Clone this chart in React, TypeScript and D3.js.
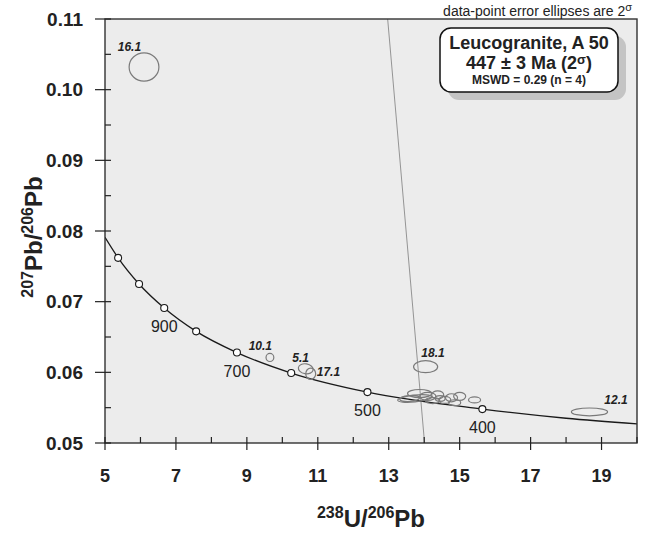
import React from 'react';
import * as d3 from 'd3';

// concordia curve (238U/206Pb, 207Pb/206Pb)
const curveX = [5.0, 5.37, 5.96, 6.67, 7.57, 8.72, 10.25, 12.40, 15.64, 18.0, 20.0];
const curveY = [0.0791, 0.0762, 0.0725, 0.0691, 0.0658, 0.0628, 0.0599, 0.0572, 0.0548, 0.0535, 0.0527];

// age markers on the concordia (Ma)
const markerAge = [1100, 1000, 900, 800, 700, 600, 500, 400];
const markerX = [5.37, 5.96, 6.67, 7.57, 8.72, 10.25, 12.40, 15.64];
const markerY = [0.0762, 0.0725, 0.0691, 0.0658, 0.0628, 0.0599, 0.0572, 0.0548];
const labelledAges = [900, 700, 500, 400];

// discordia line end points
const discX = [12.97, 14.01];
const discY = [0.11, 0.05];

// analyses: centre, half-axes (x, y), rotation, label
const spotX = [6.10, 9.65, 10.66, 10.80, 14.04, 18.66, 13.73, 13.87, 14.10, 14.38, 14.58, 14.77, 15.00, 15.42, 14.24, 13.59, 14.86, 14.45];
const spotY = [0.1032, 0.0621, 0.0605, 0.0598, 0.0608, 0.0544, 0.0563, 0.0570, 0.0566, 0.0568, 0.0561, 0.0564, 0.0566, 0.0561, 0.0560, 0.0563, 0.0557, 0.0563];
const spotSx = [0.42, 0.11, 0.21, 0.14, 0.34, 0.51, 0.48, 0.34, 0.23, 0.17, 0.17, 0.17, 0.17, 0.17, 0.20, 0.28, 0.17, 0.14];
const spotSy = [0.0020, 0.00057, 0.0007, 0.0008, 0.00085, 0.00055, 0.00049, 0.00057, 0.00057, 0.00057, 0.0005, 0.00057, 0.00057, 0.00042, 0.00042, 0.00042, 0.00042, 0.0004];
const spotRot = [0, 0, 10, 0, 0, 0, -6, 0, 0, 0, 0, 0, 0, 0, 0, -4, 0, 0];
const spotLabel = ['16.1', '10.1', '5.1', '17.1', '18.1', '12.1', '', '', '', '', '', '', '', '', '', '', '', ''];
const labelDx = [-0.74, -0.6, -0.38, 0.17, -0.12, 0.42];
const labelDy = [0.0023, 0.0011, 0.0010, -0.0003, 0.0013, 0.0011];

const xTicks = [5, 7, 9, 11, 13, 15, 17, 19];
const yTicks = [0.05, 0.06, 0.07, 0.08, 0.09, 0.10, 0.11];

const font = "Arial, 'Liberation Sans', sans-serif";

export default function App() {
  const left = 105, right = 637, top = 19, bottom = 443;
  const x = d3.scaleLinear().domain([5, 20]).range([left, right]);
  const y = d3.scaleLinear().domain([0.05, 0.11]).range([bottom, top]);

  const concordia = d3.line<number>()
    .x((d, i) => x(curveX[i]))
    .y((d, i) => y(curveY[i]))
    .curve(d3.curveMonotoneX)(curveX);

  const minorX = d3.range(5, 20.01, 1);
  const minorY = d3.range(0.05, 0.1101, 0.005);

  return (
    <svg width={650} height={533} style={{ position: 'absolute', left: 0, top: 0 }} fontFamily={font}>
      <defs>
        <clipPath id="plot">
          <rect x={left} y={top} width={right - left} height={bottom - top} />
        </clipPath>
      </defs>
      <rect x={left} y={top} width={right - left} height={bottom - top} fill="#ececec" />

      <g clipPath="url(#plot)">
        <line x1={x(discX[0])} y1={y(discY[0])} x2={x(discX[1])} y2={y(discY[1])} stroke="#8a8a8a" strokeWidth={0.9} />
        <path d={concordia || ''} fill="none" stroke="#1a1a1a" strokeWidth={1.3} />
        {spotX.map((sx, i) => (
          <ellipse key={i} cx={x(sx)} cy={y(spotY[i])}
            rx={x(sx + spotSx[i]) - x(sx)} ry={y(spotY[i] - spotSy[i]) - y(spotY[i])}
            transform={`rotate(${spotRot[i]} ${x(sx)} ${y(spotY[i])})`}
            fill="none" stroke="#7a7a7a" strokeWidth={1.2} />
        ))}
        {markerX.map((mx, i) => (
          <circle key={markerAge[i]} cx={x(mx)} cy={y(markerY[i])} r={3.5} fill="#fff" stroke="#1a1a1a" strokeWidth={1.1} />
        ))}
      </g>

      {spotLabel.map((l, i) => l ? (
        <text key={'l' + i} x={x(spotX[i] + labelDx[i])} y={y(spotY[i] + labelDy[i])}
          fontSize={12} fontWeight="bold" fontStyle="italic" fill="#222">{l}</text>
      ) : null)}

      {markerAge.map((a, i) => labelledAges.includes(a) ? (
        <text key={'a' + a} x={x(markerX[i])} y={y(markerY[i]) + 24} textAnchor="middle"
          fontSize={16} fill="#222">{a}</text>
      ) : null)}

      {/* frame */}
      <rect x={left} y={top} width={right - left} height={bottom - top} fill="none" stroke="#333" strokeWidth={1.4} />

      {/* ticks */}
      {minorX.map(v => (
        <line key={'mx' + v} x1={x(v)} x2={x(v)} y1={bottom} y2={bottom - 6} stroke="#222" strokeWidth={1.2} />
      ))}
      {xTicks.map(v => (
        <g key={'x' + v}>
          <line x1={x(v)} x2={x(v)} y1={bottom} y2={bottom + 7} stroke="#222" strokeWidth={1.2} />
          <text x={x(v)} y={482} textAnchor="middle" fontSize={18} fontWeight="bold" fill="#222">{v}</text>
        </g>
      ))}
      {minorY.map(v => (
        <line key={'my' + v} x1={left} x2={left + 6} y1={y(v)} y2={y(v)} stroke="#222" strokeWidth={1.2} />
      ))}
      {yTicks.map(v => (
        <g key={'y' + v}>
          <line x1={left - 10} x2={left} y1={y(v)} y2={y(v)} stroke="#222" strokeWidth={1.2} />
          <text x={83} y={y(v) + 6.5} textAnchor="end" fontSize={19} fontWeight="bold" fill="#222">{v.toFixed(2)}</text>
        </g>
      ))}

      {/* axis titles */}
      <text x={(left + right) / 2} y={527} textAnchor="middle" fontSize={24} fontWeight="bold" fill="#222">
        <tspan fontSize={16} dy={-9}>238</tspan><tspan dy={9}>U/</tspan><tspan fontSize={16} dy={-9}>206</tspan><tspan dy={9}>Pb</tspan>
      </text>
      <text transform="translate(42,237) rotate(-90)" textAnchor="middle" fontSize={24} fontWeight="bold" fill="#222">
        <tspan fontSize={16} dy={-9}>207</tspan><tspan dy={9}>Pb/</tspan><tspan fontSize={16} dy={-9}>206</tspan><tspan dy={9}>Pb</tspan>
      </text>

      {/* note */}
      <text x={632} y={16} textAnchor="end" fontSize={14} fill="#222">
        data-point error ellipses are 2<tspan fontSize={11} dy={-5}>σ</tspan>
      </text>

      {/* result box */}
      <rect x={448} y={36} width={178} height={64} rx={11} fill="#c4c4c4" />
      <rect x={440} y={28} width={178} height={64} rx={11} fill="#fff" stroke="#111" strokeWidth={1.5} />
      <text x={529} y={49} textAnchor="middle" fontSize={18} fontWeight="bold" fill="#222">Leucogranite, A 50</text>
      <text x={529} y={69} textAnchor="middle" fontSize={18} fontWeight="bold" fill="#222">
        447 ± 3 Ma (2<tspan fontSize={13} dy={-5}>σ</tspan><tspan dy={5}>)</tspan>
      </text>
      <text x={529} y={84} textAnchor="middle" fontSize={12} fontWeight="bold" fill="#222">MSWD = 0.29 (n = 4)</text>
    </svg>
  );
}
